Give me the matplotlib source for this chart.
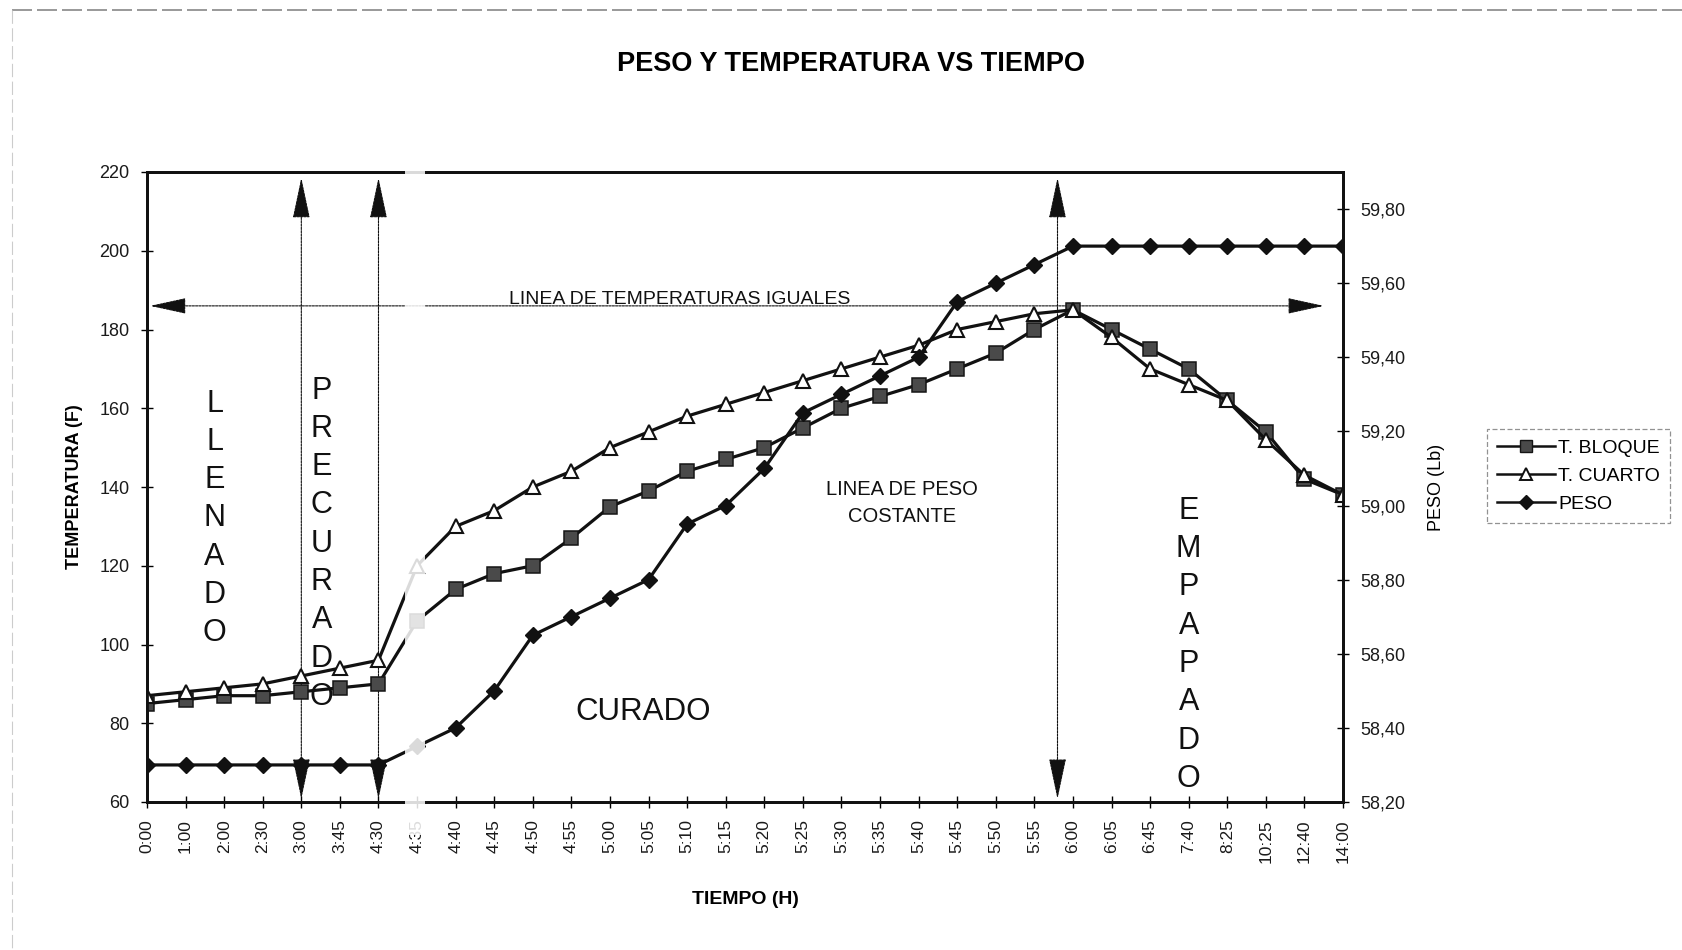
import matplotlib
matplotlib.use("Agg")
import matplotlib.pyplot as plt
from matplotlib.lines import Line2D
from matplotlib.patches import Rectangle

plt.rcParams['font.family'] = ['Liberation Sans', 'DejaVu Sans']

# ---------------- data ----------------
tiempos = ["0:00", "1:00", "2:00", "2:30", "3:00", "3:45", "4:30", "4:35",
           "4:40", "4:45", "4:50", "4:55", "5:00", "5:05", "5:10", "5:15",
           "5:20", "5:25", "5:30", "5:35", "5:40", "5:45", "5:50", "5:55",
           "6:00", "6:05", "6:45", "7:40", "8:25", "10:25", "12:40", "14:00"]

t_bloque = [85, 86, 87, 87, 88, 89, 90, 106, 114, 118, 120, 127, 135, 139,
            144, 147, 150, 155, 160, 163, 166, 170, 174, 180, 185, 180, 175,
            170, 162, 154, 142, 138]

t_cuarto = [87, 88, 89, 90, 92, 94, 96, 120, 130, 134, 140, 144, 150, 154,
            158, 161, 164, 167, 170, 173, 176, 180, 182, 184, 185, 178, 170,
            166, 162, 152, 143, 138]

peso = [58.30, 58.30, 58.30, 58.30, 58.30, 58.30, 58.30, 58.35, 58.40, 58.50,
        58.65, 58.70, 58.75, 58.80, 58.95, 59.00, 59.10, 59.25, 59.30, 59.35,
        59.40, 59.55, 59.60, 59.65, 59.70, 59.70, 59.70, 59.70, 59.70, 59.70,
        59.70, 59.70]

temp_ticks = [60, 80, 100, 120, 140, 160, 180, 200, 220]
peso_ticks = [58.2, 58.4, 58.6, 58.8, 59.0, 59.2, 59.4, 59.6, 59.8]

# ---------------- figure ----------------
W, H = 1682, 950
fig = plt.figure(figsize=(W / 100, H / 100), dpi=100)
fig.patch.set_facecolor('white')

L, R, T, B = 147, 1343, 172, 802
ax = fig.add_axes([L / W, 1 - B / H, (R - L) / W, (B - T) / H])
ax2 = ax.twinx()

x = list(range(len(tiempos)))

ax.plot(x, t_bloque, color='#111111', lw=2.3, marker='s', ms=9.5,
        mfc='#4a4a4a', mec='#151515', mew=1.1, label='T. BLOQUE', zorder=3)
ax.plot(x, t_cuarto, color='#111111', lw=2.3, marker='^', ms=10,
        mfc='white', mec='#111111', mew=1.5, label='T. CUARTO', zorder=3)
ax2.plot(x, peso, color='#111111', lw=2.3, marker='D', ms=8.5,
         mfc='#111111', mec='#111111', label='PESO', zorder=3)

ax.set_xlim(0, len(tiempos) - 1)
ax.set_ylim(60, 220)
ax.set_yticks(temp_ticks)
ax.set_xticks(x)
ax.set_xticklabels(tiempos, rotation=90, fontsize=12.5, color='#1a1a1a')
ax.tick_params(axis='y', labelsize=13, labelcolor='#1a1a1a',
               direction='inout', length=9, width=1.0, pad=8)
ax.tick_params(axis='x', direction='inout', length=9, width=1.0, pad=8)

ax2.set_ylim(58.2, 59.9)
ax2.set_yticks(peso_ticks)
ax2.set_yticklabels([f"{v:.2f}".replace('.', ',') for v in peso_ticks])
ax2.tick_params(axis='y', labelsize=13, labelcolor='#1a1a1a',
                direction='inout', length=9, width=1.0, pad=8)

for a in (ax, ax2):
    for s in a.spines.values():
        s.set_linewidth(2.0)
        s.set_color('#111111')

ax.set_ylabel('TEMPERATURA (F)', fontsize=13, fontweight='bold', labelpad=12)
ax2.set_ylabel('PESO (Lb)', fontsize=13, labelpad=16)
ax.set_xlabel('TIEMPO (H)', fontsize=14, fontweight='bold', labelpad=20)

fig.text(0.5057, 1 - 64 / H, 'PESO Y TEMPERATURA VS TIEMPO', ha='center',
         va='center', fontsize=19.5, fontweight='bold')

# ---------------- annotations ----------------
arrow_kw = dict(arrowstyle='<|-|>,head_length=26,head_width=5.5',
                color='#111111', lw=0.8, shrinkA=0, shrinkB=0,
                linestyle=(0, (2, 1)))
for xv in (4, 6, 23.6):
    ax.annotate('', xy=(xv, 218.5), xytext=(xv, 60.8),
                arrowprops=dict(arrow_kw, mutation_scale=1), zorder=2)

ax.annotate('', xy=(0.08, 186), xytext=(30.5, 186),
            arrowprops=dict(arrowstyle='<|-|>,head_length=23,head_width=5',
                            mutation_scale=1, color='#111111', lw=0.8,
                            shrinkA=0, shrinkB=0, linestyle=(0, (2, 1))),
            zorder=2)
ax.text(13.8, 186.6, 'LINEA DE TEMPERATURAS IGUALES', ha='center',
        va='baseline', fontsize=14, color='#111111')

ax.text(1.75, 132, '\n'.join('LLENADO'), ha='center', va='center',
        fontsize=22, linespacing=1.36, color='#111111')
ax.text(4.53, 125.6, '\n'.join('PRECURADO'), ha='center', va='center',
        fontsize=22, linespacing=1.36, color='#111111')
ax.text(27.0, 99.9, '\n'.join('EMPAPADO'), ha='center', va='center',
        fontsize=22, linespacing=1.36, color='#111111')
ax.text(12.87, 82.9, 'CURADO', ha='center', va='center', fontsize=22.5,
        color='#111111')
ax.text(19.57, 136, 'LINEA DE PESO\nCOSTANTE', ha='center', va='center',
        fontsize=14.5, linespacing=1.55, color='#111111')

# ---------------- legend ----------------
handles = [
    Line2D([], [], color='#111111', lw=1.8, marker='s', ms=8.5, mfc='#4a4a4a',
           mec='#151515'),
    Line2D([], [], color='#111111', lw=1.8, marker='^', ms=9, mfc='white',
           mec='#111111', mew=1.4),
    Line2D([], [], color='#111111', lw=1.8, marker='D', ms=7.5, mfc='#111111',
           mec='#111111'),
]
leg = fig.legend(handles, ['T. BLOQUE', 'T. CUARTO', 'PESO'],
                 loc='center left', bbox_to_anchor=(1487 / W, 1 - 476 / H),
                 fontsize=14, frameon=True, fancybox=False, handlelength=3.0,
                 handletextpad=0.15, borderpad=0.5, labelspacing=0.55,
                 borderaxespad=0)
fr = leg.get_frame()
fr.set_edgecolor('#777777')
fr.set_linestyle((0, (4, 2)))
fr.set_linewidth(0.9)

# ---------------- scan-like decorations ----------------
fig.add_artist(Line2D([12 / W, 1.0], [1 - 10 / H, 1 - 10 / H],
                      transform=fig.transFigure, color='#888888', lw=1.2,
                      linestyle=(0, (12, 3))))
fig.add_artist(Line2D([12 / W, 12 / W], [1 - 10 / H, 0.0],
                      transform=fig.transFigure, color='#cccccc', lw=0.8,
                      linestyle=(0, (12, 4))))
fig.add_artist(Rectangle((405 / W, 1 - 835 / H), 20 / W, (835 - 165) / H,
                         transform=fig.transFigure, facecolor='white',
                         edgecolor='none', alpha=0.85, zorder=10))

fig.savefig('out.png', dpi=100)
